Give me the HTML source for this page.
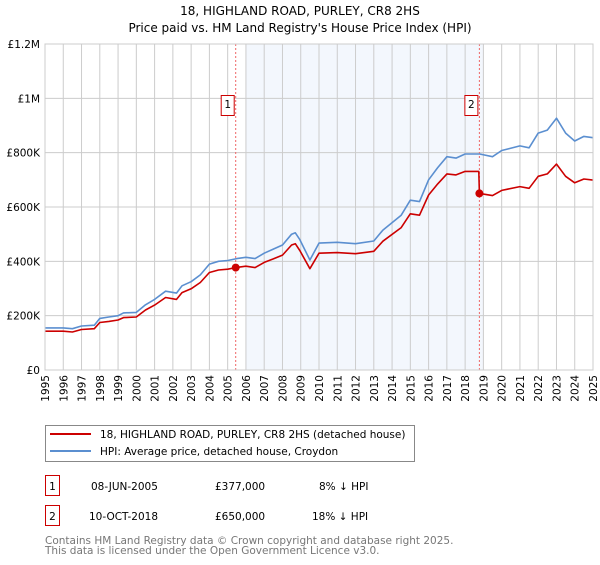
<!DOCTYPE html>
<html><head><meta charset="utf-8"><style>
body{margin:0;background:#fff;}
svg text{font-family:"DejaVu Sans","Liberation Sans",sans-serif;}
</style></head><body>
<svg id="chart" width="600" height="560" viewBox="0 0 600 560" xmlns="http://www.w3.org/2000/svg">
<text x="300" y="15" text-anchor="middle" font-size="12" fill="#000">18, HIGHLAND ROAD, PURLEY, CR8 2HS</text>
<text x="300" y="32" text-anchor="middle" font-size="12" fill="#000">Price paid vs. HM Land Registry's House Price Index (HPI)</text>
<g id="plot"></g>
<g>
<rect x="45.5" y="425.5" width="369" height="36" fill="#fff" stroke="#888"/>
<line x1="50" y1="434" x2="91" y2="434" stroke="#cc0000" stroke-width="2"/>
<text x="100" y="438" font-size="10.5">18, HIGHLAND ROAD, PURLEY, CR8 2HS (detached house)</text>
<line x1="50" y1="451" x2="91" y2="451" stroke="#5b8fd0" stroke-width="2"/>
<text x="100" y="455" font-size="10.5">HPI: Average price, detached house, Croydon</text>
</g>
<g font-size="10.5">
<rect x="45.5" y="475.5" width="14" height="20" fill="#fff" stroke="#cc0000"/>
<text x="52.5" y="490" text-anchor="middle">1</text>
<text x="91" y="490">08-JUN-2005</text>
<text x="215" y="490">£377,000</text>
<text x="319" y="490">8% ↓ HPI</text>
<rect x="45.5" y="505.5" width="14" height="20" fill="#fff" stroke="#cc0000"/>
<text x="52.5" y="520" text-anchor="middle">2</text>
<text x="89" y="520">10-OCT-2018</text>
<text x="215" y="520">£650,000</text>
<text x="312" y="520">18% ↓ HPI</text>
</g>
<text x="45" y="544" font-size="10.5" fill="#777">Contains HM Land Registry data © Crown copyright and database right 2025.</text>
<text x="45" y="554" font-size="10.5" fill="#777">This data is licensed under the Open Government Licence v3.0.</text>
</svg>
<script>
const years=[1995,1996,1997,1998,1999,2000,2001,2002,2003,2004,2005,2006,2007,2008,2009,2010,2011,2012,2013,2014,2015,2016,2017,2018,2019,2020,2021,2022,2023,2024,2025];
const yTicks=[0,200000,400000,600000,800000,1000000,1200000];
const yTickLabels=["£0","£200K","£400K","£600K","£800K","£1M","£1.2M"];
const hpiDates=[1995,1996,1996.5,1997,1997.7,1998,1998.5,1999,1999.3,2000,2000.5,2001,2001.6,2002.2,2002.5,2003,2003.5,2004,2004.5,2005,2005.5,2006,2006.5,2007,2007.5,2008,2008.5,2008.7,2008.95,2009.5,2010,2011,2012,2013,2013.5,2014.5,2015,2015.5,2016,2016.5,2017,2017.5,2018,2018.8,2019.5,2020,2021,2021.5,2022,2022.5,2023,2023.5,2024,2024.5,2025];
const hpiValues=[155,155,152,162,165,190,195,200,210,212,240,260,290,283,310,325,350,390,400,403,410,415,410,430,445,460,500,505,480,405,467,470,465,475,515,570,625,620,700,745,785,780,795,795,785,808,825,818,872,883,927,872,843,860,855];
const priceDates=[1995,1996,1996.5,1997,1997.7,1998,1998.5,1999,1999.3,2000,2000.5,2001,2001.6,2002.2,2002.5,2003,2003.5,2004,2004.5,2005,2005.44,2006,2006.5,2007,2007.5,2008,2008.5,2008.7,2008.95,2009.5,2010,2011,2012,2013,2013.5,2014.5,2015,2015.5,2016,2016.5,2017,2017.5,2018,2018.75,2018.78,2019.5,2020,2021,2021.5,2022,2022.5,2023,2023.5,2024,2024.5,2025];
const priceValues=[143,143,140,149,152,175,179,184,193,195,221,239,267,260,285,299,322,359,368,371,377,382,377,396,409,423,460,465,440,373,430,432,428,437,474,524,575,570,644,685,722,718,731,731,650,642,661,675,669,713,722,758,713,689,703,699];
const saleDates=[2005.44,2018.78];
const saleValues=[377000,650000];
const saleLabels=["1","2"];
const shadeRange=[2006,2019];

const NS="http://www.w3.org/2000/svg";
const X0=45,X1=593,Y0=370,Y1=44;
const xs=t=>X0+(t-1995)/30*(X1-X0);
const ys=v=>Y0-v/1200000*(Y0-Y1);
const g=document.getElementById('plot');
function mk(tag,attrs){const e=document.createElementNS(NS,tag);for(const k in attrs)e.setAttribute(k,attrs[k]);g.appendChild(e);return e;}
let sh=mk('rect',{x:xs(shadeRange[0]),y:Y1,width:xs(shadeRange[1])-xs(shadeRange[0]),height:Y0-Y1,fill:'#eef3fc',opacity:0.7});


years.forEach(y=>{
 let l=mk('line',{x1:xs(y),x2:xs(y),y1:Y1,y2:Y0,stroke:'#ccc','stroke-width':1});
 
 
 let t=mk('text',{x:0,y:0,'font-size':10.5,'text-anchor':'end',transform:`translate(${xs(y)+4},${Y0+5}) rotate(-90)`});
 t.textContent=y;
 
 
});
yTicks.forEach((v,i)=>{
 let l=mk('line',{x1:X0,x2:X1,y1:ys(v),y2:ys(v),stroke:'#ccc','stroke-width':1});
 
 
 let t=mk('text',{x:X0-5,y:ys(v)+4,'font-size':10.5,'text-anchor':'end'});
 t.textContent=yTickLabels[i];
 
 
});
saleDates.forEach((d,i)=>{
 let l=mk('line',{x1:xs(d),x2:xs(d),y1:Y1,y2:Y0,stroke:'#ee6666','stroke-width':1,'stroke-dasharray':'2,2'});
 
 
});
function line(ds,vs,color,name){
 const p=ds.map((d,i)=>xs(d).toFixed(1)+','+ys(vs[i]*1000).toFixed(1)).join(' ');
 let e=mk('polyline',{points:p,fill:'none',stroke:color,'stroke-width':1.6,'stroke-linejoin':'round'});
 
 
}
line(hpiDates,hpiValues,'#5b8fd0','hpi-line');
line(priceDates,priceValues,'#cc0000','property-price-line');
saleDates.forEach((d,i)=>{
 let c=mk('circle',{cx:xs(d),cy:ys(saleValues[i]),r:4,fill:'#cc0000'});
 
 
 let r=mk('rect',{x:xs(d)-14.5,y:95.5,width:13,height:20,fill:'#fff',stroke:'#cc0000'});
 
 
 let t=mk('text',{x:xs(d)-8,y:108,'font-size':10.5,'text-anchor':'middle'});
 t.textContent=saleLabels[i];
 
 
});
let ax=mk('rect',{x:X0,y:Y1,width:X1-X0,height:Y0-Y1,fill:'none',stroke:'#ccc'});


</script>
</body></html>
